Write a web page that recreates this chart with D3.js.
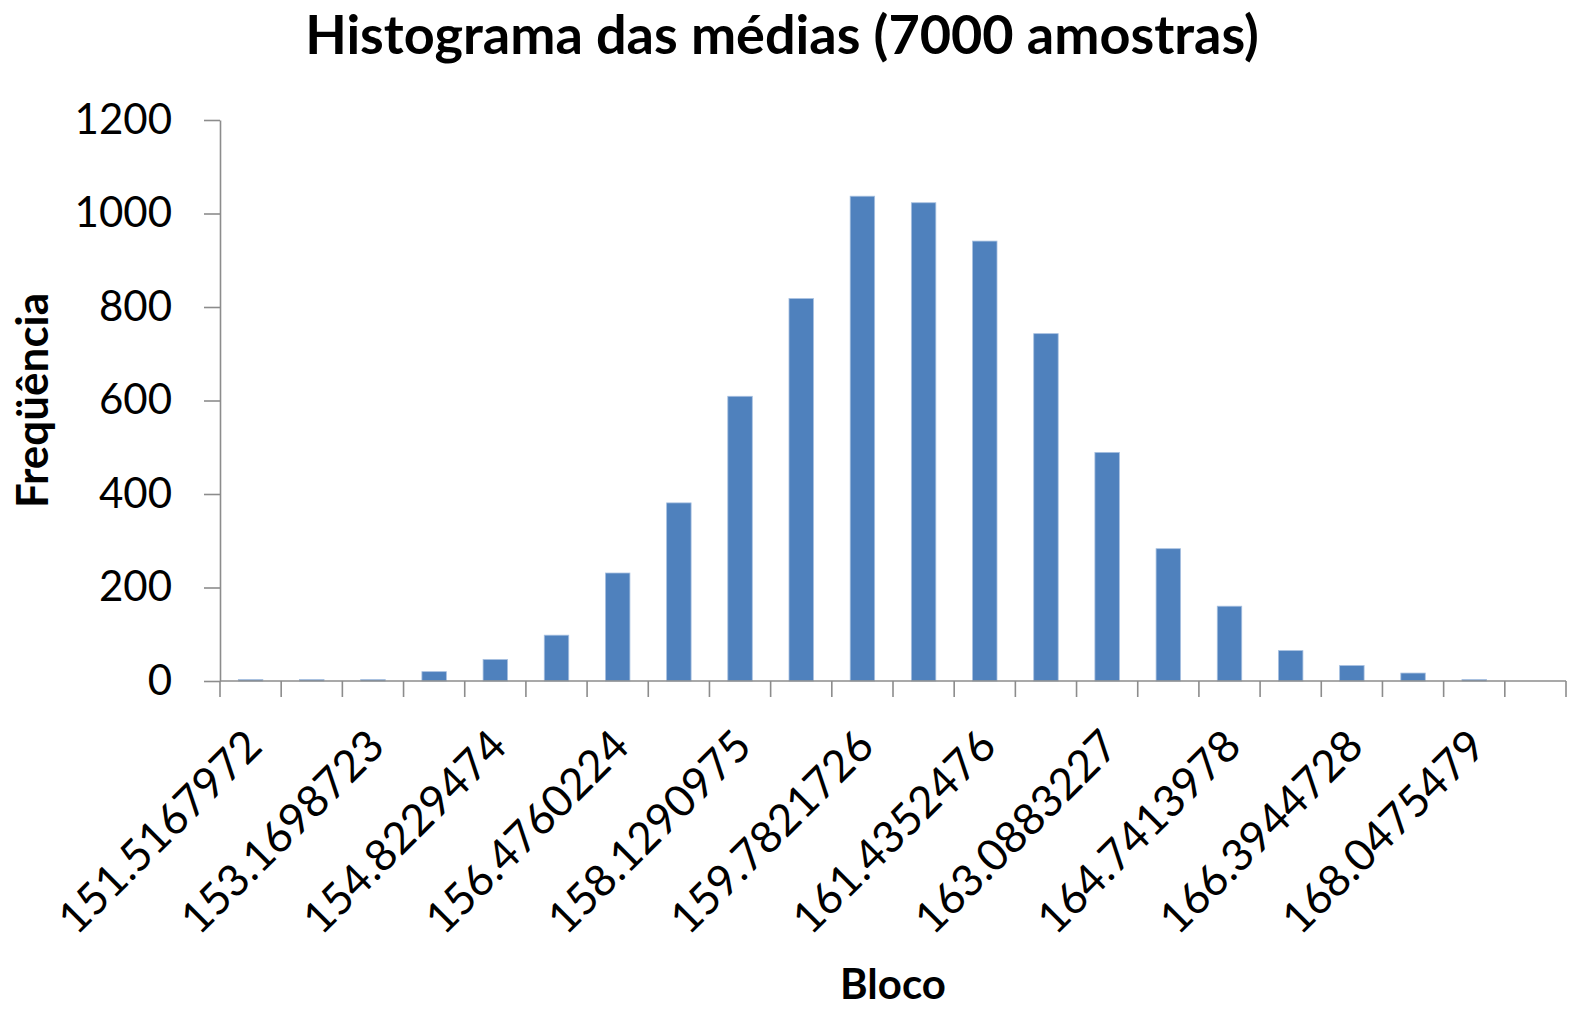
<!DOCTYPE html>
<html>
    <head>
        <meta charset="utf-8">
        <title>Histograma das médias</title>
        <script src="https://d3js.org/d3.v7.min.js"></script>
        <style>
            html, body {
                margin: 0;
                padding: 0;
                overflow: hidden;
                background: #FFF;
            }
            svg text {
                font-family: Lato, 'Open Sans', sans-serif;
                fill: #000;
            }
            .axis path, .axis line {
                stroke: #8C8C8C;
                stroke-width: 1.6;
            }
        </style>
    </head>
    <body>
        <svg id="chart" width="1570" height="1011"></svg>
        <script>
            // bins (Excel "Bloco") and counts
            const blocos = ['151.5167972', '152.3433347', '153.1698723', '153.9964098', '154.8229474',
                '155.6494849', '156.4760224', '157.3025600', '158.1290975', '158.9556350',
                '159.7821726', '160.6087101', '161.4352476', '162.2617852', '163.0883227',
                '163.9148602', '164.7413978', '165.5679353', '166.3944728', '167.2210104',
                '168.0475479', 'Mais'];
            const frequencias = [3, 3, 3, 20, 46, 98, 231, 381, 609, 818, 1037, 1023, 941, 743, 489, 283, 160, 65, 33, 17, 3, 0];
            const yTicks = [0, 200, 400, 600, 800, 1000, 1200];

            const titulo = 'Histograma das médias (7000 amostras)';
            const xTitulo = 'Bloco';
            const yTitulo = 'Freqüência';

            const margin = {top: 120, right: 4, bottom: 330, left: 220};
            const width = 1570, height = 1011;

            const svg = d3.select('#chart');
            const data = blocos.map((b, i) => ({bloco: b, freq: frequencias[i]}));

            const x = d3.scaleBand()
                .domain(blocos)
                .range([margin.left, width - margin.right])
                .paddingInner(0.6)
                .paddingOuter(0.3);
            const step = x.step();

            const y = d3.scaleLinear()
                .domain([0, 1200])
                .range([height - margin.bottom, margin.top]);

            // bars
            svg.append('g')
                .selectAll('rect')
                .data(data)
                .join('rect')
                .attr('x', d => x(d.bloco))
                .attr('y', d => y(d.freq))
                .attr('width', x.bandwidth())
                .attr('height', d => y(0) - y(d.freq))
                .attr('fill', '#4F81BD')
                .attr('stroke', '#A7C0E0')
                .attr('stroke-width', 0.8);

            // y axis
            const yAxis = d3.axisLeft(y)
                .tickValues(yTicks)
                .tickFormat(d3.format('d'))
                .tickSize(16)
                .tickSizeOuter(0)
                .tickPadding(32);
            svg.append('g')
                .attr('class', 'axis')
                .attr('transform', `translate(${margin.left},0)`)
                .call(yAxis)
                .call(g => g.selectAll('text').attr('font-size', 42));

            // x axis: ticks between categories, label every other one
            const xg = svg.append('g')
                .attr('class', 'axis')
                .attr('transform', `translate(0,${y(0)})`);
            xg.append('line')
                .attr('x1', margin.left)
                .attr('x2', width - margin.right)
                .attr('y1', 0)
                .attr('y2', 0);
            xg.selectAll('line.tick')
                .data(d3.range(blocos.length + 1))
                .join('line')
                .attr('class', 'tick')
                .attr('x1', i => margin.left + i * step)
                .attr('x2', i => margin.left + i * step)
                .attr('y1', 0)
                .attr('y2', 16);
            xg.selectAll('text')
                .data(blocos.filter((b, i) => i % 2 === 0))
                .join('text')
                .attr('text-anchor', 'end')
                .attr('font-size', 44)
                .attr('transform', d => `translate(${x(d) + x.bandwidth() / 2 - 8},${46}) rotate(-45)`)
                .attr('dy', '0.7em')
                .text(d => d);

            // titles
            svg.append('text')
                .attr('x', 782)
                .attr('y', 54)
                .attr('text-anchor', 'middle')
                .attr('font-size', 54)
                .attr('font-weight', 'bold')
                .text(titulo);
            svg.append('text')
                .attr('x', (margin.left + width - margin.right) / 2)
                .attr('y', 999)
                .attr('text-anchor', 'middle')
                .attr('font-size', 42)
                .attr('font-weight', 'bold')
                .text(xTitulo);
            svg.append('text')
                .attr('transform', `translate(48,${(y(0) + y(1200)) / 2}) rotate(-90)`)
                .attr('text-anchor', 'middle')
                .attr('font-size', 44)
                .attr('font-weight', 'bold')
                .text(yTitulo);
        </script>
    </body>
</html>
